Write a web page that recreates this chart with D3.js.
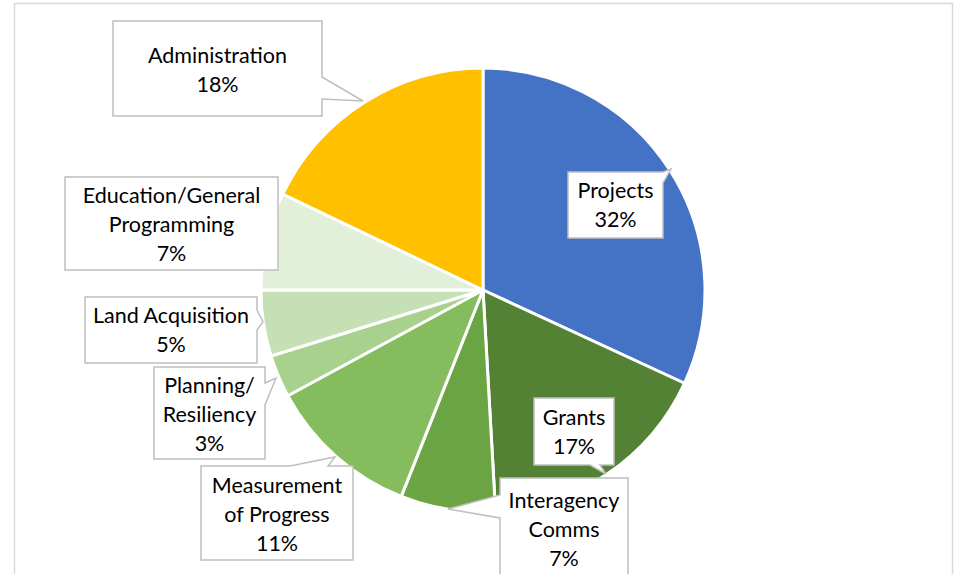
<!DOCTYPE html>
<html>
<head>
<meta charset="utf-8">
<script src="https://cdn.jsdelivr.net/npm/d3@7"></script>
<style>
  html, body { margin: 0; padding: 0; background: #ffffff; }
  svg { display: block; }
  text { font-family: Lato, "Open Sans", sans-serif; fill: #000; }
</style>
</head>
<body>
<svg id="chart" width="955" height="574"></svg>
<script>
// ---- data ----
const categories = ["Projects", "Grants", "Interagency Comms", "Measurement of Progress",
                    "Planning/ Resiliency", "Land Acquisition", "Education/General Programming", "Administration"];
const values = [31.9, 17.2, 6.9, 11.1, 3.1, 4.8, 7.1, 17.9];
const percentLabels = ["32%", "17%", "7%", "11%", "3%", "5%", "7%", "18%"];
const labelLines = [
  ["Projects"], ["Grants"], ["Interagency", "Comms"], ["Measurement", "of Progress"],
  ["Planning/", "Resiliency"], ["Land Acquisition"], ["Education/General", "Programming"], ["Administration"]
];
const colors = ["#4472C4", "#548235", "#6AA443", "#84BC5E", "#A9D18E", "#C5E0B4", "#E2F0D9", "#FFC000"];

// ---- layout ----
const svg = d3.select("#chart");
const W = 955, H = 574;
const cx = 483, cy = 290, R = 222;

// chart frame
svg.append("rect").attr("x", 14.5).attr("y", 3.5).attr("width", 938).attr("height", 620)
  .attr("fill", "#fff").attr("stroke", "#D9D9D9").attr("stroke-width", 1.5);

const pie = d3.pie().sort(null).value(d => d)(values);
const arc = d3.arc().innerRadius(0).outerRadius(R);

svg.append("g").attr("transform", `translate(${cx},${cy})`)
  .selectAll("path").data(pie).join("path")
  .attr("d", arc)
  .attr("fill", (d, i) => colors[i])
  .attr("stroke", "#fff").attr("stroke-width", 3).attr("stroke-linejoin", "round");

// callout boxes (box corners, pointer side/base/tip, first baseline)
const callouts = [
  { box: [568, 172, 663, 238], ptr: { side: "right", a: 172, b: 183, tip: [671, 169] }, base: 198 },
  { box: [534, 398, 614, 465], ptr: { side: "bottom", a: 590, b: 600, tip: [606, 474] }, base: 425 },
  { box: [500, 478, 628, 576], ptr: { side: "left", a: 495, b: 518, tip: [448, 509] }, base: 508 },
  { box: [201, 466, 353, 560], ptr: { side: "top", a: 290, b: 328, tip: [335, 457] }, base: 493 },
  { box: [154, 367, 265, 459], ptr: { side: "right", a: 383, b: 405, tip: [276, 378] }, base: 393 },
  { box: [85, 297, 257, 363], ptr: { side: "right", a: 310, b: 330, tip: [263, 322] }, base: 323 },
  { box: [65, 177, 278, 270], ptr: null, base: 203 },
  { box: [113, 21, 322, 116], ptr: { side: "right", a: 77, b: 99, tip: [363, 101] }, base: 63 }
];

function calloutPath(c) {
  const [x0, y0, x1, y1] = c.box;
  const p = c.ptr;
  const pts = [[x0, y0]];
  if (p && p.side === "top") pts.push([p.a, y0], p.tip, [p.b, y0]);
  pts.push([x1, y0]);
  if (p && p.side === "right") pts.push([x1, p.a], p.tip, [x1, p.b]);
  pts.push([x1, y1]);
  if (p && p.side === "bottom") pts.push([p.b, y1], p.tip, [p.a, y1]);
  pts.push([x0, y1]);
  if (p && p.side === "left") pts.push([x0, p.b], p.tip, [x0, p.a]);
  return "M" + pts.map(q => q.join(",")).join("L") + "Z";
}

const lineH = 29;
const lg = svg.append("g");
callouts.forEach((c, i) => {
  const g = lg.append("g");
  g.append("path").attr("d", calloutPath(c))
    .attr("fill", "#fff").attr("stroke", "#BFBFBF").attr("stroke-width", 1.5)
    .attr("stroke-linejoin", "miter");
  const mx = (c.box[0] + c.box[2]) / 2;
  const lines = labelLines[i].concat([percentLabels[i]]);
  lines.forEach((t, k) => {
    g.append("text").attr("x", mx).attr("y", c.base + k * lineH)
      .attr("text-anchor", "middle").attr("font-size", 21.5).text(t);
  });
});
</script>
</body>
</html>
